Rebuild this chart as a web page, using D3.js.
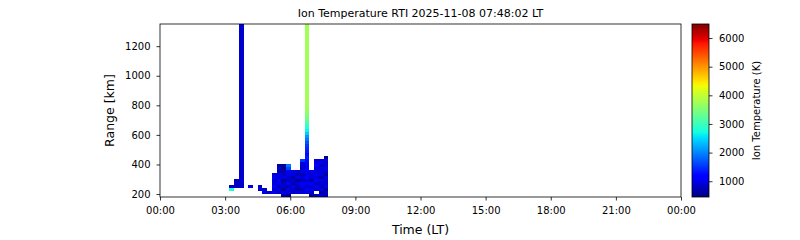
<!DOCTYPE html>
<html>
<head>
<meta charset="utf-8">
<script src="https://cdn.jsdelivr.net/npm/d3@7"></script>
<style>
  html, body { margin: 0; padding: 0; background: #fff; }
  svg { display: block; font-family: "DejaVu Sans", sans-serif; }
</style>
</head>
<body>
<svg id="chart" width="800" height="240"></svg>
<script>
// ---------------- DATA ----------------
const titleText = "Ion Temperature RTI 2025-11-08 07:48:02 LT";
const xTickHours = [0, 3, 6, 9, 12, 15, 18, 21, 24];
const yTicks = [200, 400, 600, 800, 1000, 1200];
const cbTicks = [1000, 2000, 3000, 4000, 5000, 6000];
const tempMin = 450, tempMax = 6490;
const rangeMin = 180, rangeMax = 1350;

// time bins (start, LT)
const timeBins = ["03:12","03:25","03:38","03:51","04:04","04:17","04:30","04:43","04:56","05:09",
                  "05:22","05:35","05:48","06:01","06:14","06:27","06:40","06:53","07:06","07:19","07:32"];
const binEnd = "07:45";

// low-altitude gates (km edges)
const lowGateEdges = [180,200,220,240,260,280,300,320,340,360,380,400,420,440,460];
const N = null;
// ion temperature (K) per time bin x low gate
const lowTemps = [
  [N,N,2800,800,N,N,N,N,N,N,N,N,N,N],
  [N,N,N,780,800,760,N,N,N,N,N,N,N,N],
  [N,N,N,850,850,850,850,850,850,850,850,850,850,850],
  [N,N,N,N,N,N,N,N,N,N,N,N,N,N],
  [N,N,N,950,N,N,N,N,N,N,N,N,N,N],
  [N,N,N,N,N,N,N,N,N,N,N,N,N,N],
  [N,N,950,900,N,N,N,N,N,N,N,N,N,N],
  [N,950,850,N,N,N,N,N,N,N,N,N,N,N],
  [N,900,N,N,N,N,N,N,N,N,N,N,N,N],
  [N,1000,850,1100,950,900,1050,900,N,N,N,N,N,N],
  [N,850,1000,750,1050,1100,900,1000,650,900,600,N,N,N],
  [700,1000,620,900,780,600,1000,850,650,580,600,N,N,N],
  [620,900,1000,700,1100,800,900,1000,1050,1600,1900,N,N,N],
  [N,780,900,1050,700,900,620,950,1000,N,N,N,N,N],
  [N,950,700,800,900,620,1000,780,900,N,N,N,N,N],
  [N,900,800,1000,1100,780,900,700,1000,850,900,950,1550,N],
  [N,1000,1100,900,1050,950,1100,1000,1050,1100,1150,1200,1250,1350],
  [620,800,1000,900,1100,700,950,900,1000,N,N,N,N,N],
  [800,N,900,1000,780,1100,900,1000,950,850,1100,1000,900,N],
  [900,620,1000,800,900,1000,700,950,900,1000,800,1050,950,N],
  [700,900,580,1000,800,900,950,620,900,1000,900,800,1000,540]
];

// upper gates only present for two profiles
const upperTimes = ["03:38", "06:40"];
const upperGateEdges = [460,480,500,520,540,560,580,600,620,640,660,680,700,720,740,760,780,800,1400];
const upperTempsA = [850,850,850,850,850,850,850,850,850,850,850,850,850,850,850,850,850,850];
const upperTempsB = [1250,1350,1450,1550,1700,1900,2100,2400,2650,2850,3000,3200,3400,3500,3600,3680,3720,3750];

// ---------------- LAYOUT ----------------
const L = 160, R = 681, T = 24, B = 197;
const cbL = 692, cbR = 709;
const svg = d3.select("#chart");
const font = '"DejaVu Sans", sans-serif';

const toHours = s => { const [h, m] = s.split(":").map(Number); return h + m / 60; };
const x = d3.scaleLinear().domain([0, 24]).range([L, R]);
const y = d3.scaleLinear().domain([rangeMin, rangeMax]).range([B, T]);

// matplotlib jet
const jr = d3.scaleLinear().domain([0, 0.35, 0.66, 0.89, 1]).range([0, 0, 1, 1, 0.5]).clamp(true);
const jg = d3.scaleLinear().domain([0, 0.125, 0.375, 0.64, 0.91, 1]).range([0, 0, 1, 1, 0, 0]).clamp(true);
const jb = d3.scaleLinear().domain([0, 0.11, 0.34, 0.65, 1]).range([0.5, 1, 1, 0, 0]).clamp(true);
const norm = d3.scaleLinear().domain([tempMin, tempMax]).range([0, 1]).clamp(true);
const jet = t => d3.rgb(jr(t) * 255, jg(t) * 255, jb(t) * 255).formatHex();
const color = v => jet(norm(v));

// clip
svg.append("defs").append("clipPath").attr("id", "clip")
  .append("rect").attr("x", L).attr("y", T).attr("width", R - L).attr("height", B - T);

const cells = svg.append("g").attr("clip-path", "url(#clip)").attr("shape-rendering", "crispEdges");

const binStartH = timeBins.map(toHours);
const binEndH = binStartH.slice(1).concat([toHours(binEnd)]);

const allCells = [];
lowTemps.forEach((row, i) => row.forEach((v, j) => {
  if (v !== null) allCells.push({t0: binStartH[i], t1: binEndH[i], r0: lowGateEdges[j], r1: lowGateEdges[j + 1], v});
}));
[upperTempsA, upperTempsB].forEach((arr, k) => {
  const i = timeBins.indexOf(upperTimes[k]);
  arr.forEach((v, j) => allCells.push({t0: binStartH[i], t1: binEndH[i], r0: upperGateEdges[j], r1: upperGateEdges[j + 1], v}));
});

cells.selectAll("rect").data(allCells).join("rect")
  .attr("x", d => x(d.t0))
  .attr("width", d => x(d.t1) - x(d.t0))
  .attr("y", d => y(d.r1))
  .attr("height", d => y(d.r0) - y(d.r1))
  .attr("fill", d => color(d.v));

// axes
const xAxis = d3.axisBottom(x).tickValues(xTickHours)
  .tickFormat(h => String(h % 24).padStart(2, "0") + ":00")
  .tickSize(3.5).tickPadding(6.5).tickSizeOuter(0);
const gx = svg.append("g").attr("transform", `translate(0,${B})`).call(xAxis);
const yAxis = d3.axisLeft(y).tickValues(yTicks).tickFormat(d3.format("d"))
  .tickSize(3.5).tickPadding(6).tickSizeOuter(0);
const gy = svg.append("g").attr("transform", `translate(${L},0)`).call(yAxis);
[gx, gy].forEach(g => {
  g.select(".domain").remove();
  g.selectAll("text").attr("font-size", 10).attr("font-family", font).attr("fill", "#000");
  g.selectAll("line").attr("stroke", "#000").attr("stroke-width", 0.8);
});

// frame
svg.append("rect").attr("x", L).attr("y", T).attr("width", R - L).attr("height", B - T)
  .attr("fill", "none").attr("stroke", "#000").attr("stroke-width", 0.8);

// labels
svg.append("text").attr("x", (L + R) / 2).attr("y", 16.5).attr("text-anchor", "middle")
  .attr("font-size", 11).attr("font-family", font).text(titleText);
svg.append("text").attr("x", (L + R) / 2).attr("y", 233.5).attr("text-anchor", "middle")
  .attr("font-size", 12.5).attr("font-family", font).text("Time (LT)");
svg.append("text").attr("transform", `translate(114,${(T + B) / 2}) rotate(-90)`).attr("text-anchor", "middle")
  .attr("font-size", 12.5).attr("font-family", font).text("Range [km]");

// colorbar
const cbY = d3.scaleLinear().domain([tempMin, tempMax]).range([B, T]);
const grad = svg.select("defs").append("linearGradient").attr("id", "jetgrad")
  .attr("x1", 0).attr("y1", 1).attr("x2", 0).attr("y2", 0);
d3.range(0, 1.0001, 0.01).forEach(o => grad.append("stop").attr("offset", o).attr("stop-color", jet(o)));
svg.append("rect").attr("x", cbL).attr("y", T).attr("width", cbR - cbL).attr("height", B - T)
  .attr("fill", "url(#jetgrad)").attr("stroke", "#000").attr("stroke-width", 0.8);
const cbAxis = d3.axisRight(cbY).tickValues(cbTicks).tickFormat(d3.format("d"))
  .tickSize(3.5).tickPadding(6.5).tickSizeOuter(0);
const gc = svg.append("g").attr("transform", `translate(${cbR},0)`).call(cbAxis);
gc.select(".domain").remove();
gc.selectAll("text").attr("font-size", 10).attr("font-family", font).attr("fill", "#000");
gc.selectAll("line").attr("stroke", "#000").attr("stroke-width", 0.8);
svg.append("text").attr("transform", `translate(760,${(T + B) / 2}) rotate(-90)`).attr("text-anchor", "middle")
  .attr("font-size", 10).attr("font-family", font).text("Ion Temperature (K)");
</script>
</body>
</html>
